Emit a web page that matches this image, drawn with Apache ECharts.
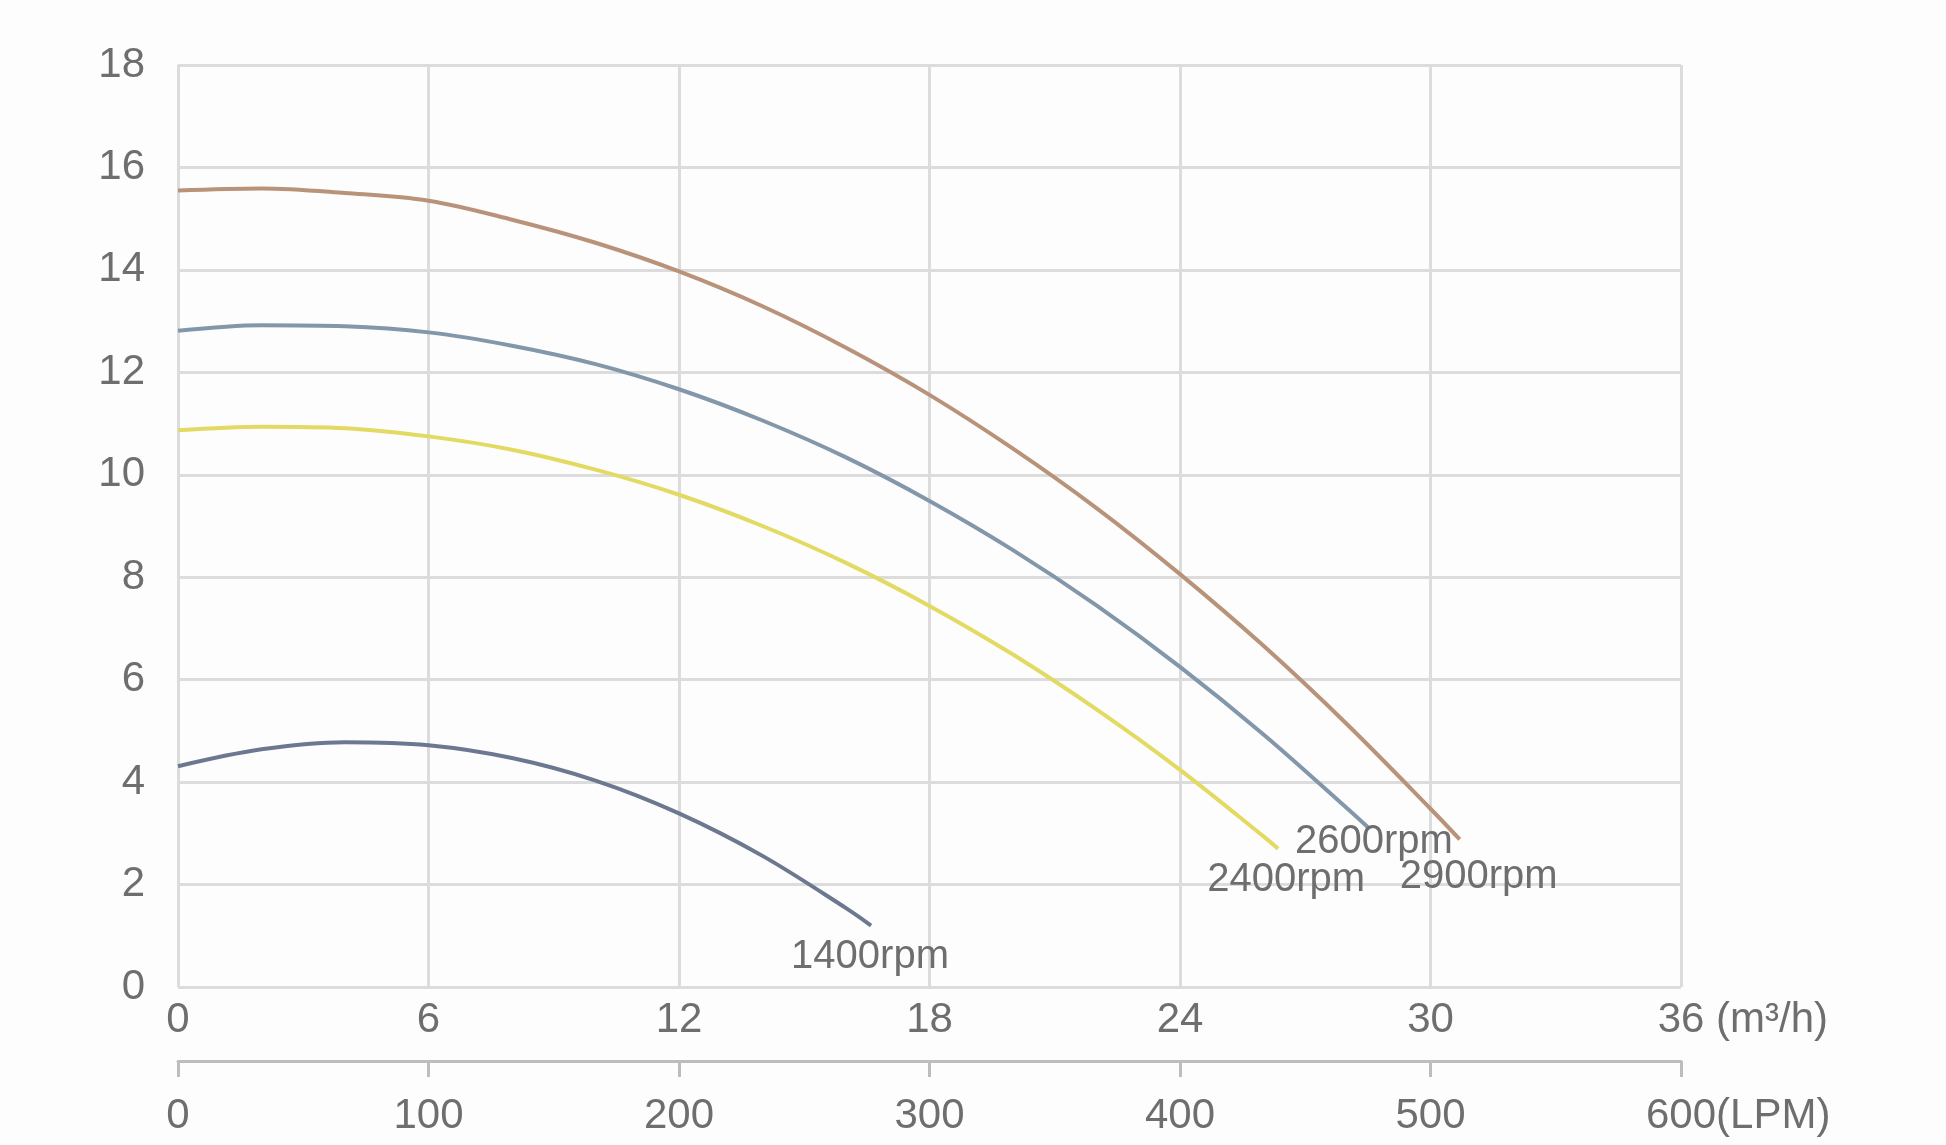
<!DOCTYPE html>
<html>
  <head>
    <title></title>
    <meta charset="UTF-8" />
    <script src="https://cdn.jsdelivr.net/npm/echarts@6/dist/echarts.min.js"></script>
    <style>
      html, body { margin: 0; padding: 0; background: #fdfdfd; }
    </style>
  </head>
  <body>
    <div id="main"></div>
    <script>
      const width = 1946;
      const height = 1145;
      const main = document.getElementById('main');
      main.style.width = `${width}px`;
      main.style.height = `${height}px`;

      // flow in m3/h, head in m
      const flow2900 = [0, 2, 4, 6, 8, 10, 12, 14, 16, 18, 20, 22, 24, 26, 28, 30, 30.7];
      const head2900 = [15.55, 15.59, 15.5, 15.35, 14.98, 14.53, 13.97, 13.29, 12.48, 11.56, 10.51, 9.35, 8.06, 6.66, 5.13, 3.48, 2.88];
      const flow2600 = [0, 2, 4, 6, 8, 10, 12, 14, 16, 18, 20, 22, 24, 26, 28, 28.5];
      const head2600 = [12.81, 12.92, 12.9, 12.78, 12.52, 12.16, 11.67, 11.06, 10.34, 9.49, 8.53, 7.45, 6.25, 4.93, 3.49, 3.12];
      const flow2400 = [0, 2, 4, 6, 8, 10, 12, 14, 16, 18, 20, 22, 24, 26, 26.35];
      const head2400 = [10.87, 10.94, 10.91, 10.75, 10.49, 10.1, 9.61, 9.0, 8.28, 7.44, 6.49, 5.42, 4.24, 2.94, 2.7];
      const flow1400 = [0, 2, 4, 6, 8, 10, 12, 14, 16, 16.6];
      const head1400 = [4.31, 4.64, 4.78, 4.72, 4.47, 4.03, 3.39, 2.56, 1.54, 1.2];

      const speedNames = ['2900rpm', '2600rpm', '2400rpm', '1400rpm'];
      const colors = ['#b8937a', '#8397aa', '#e2da62', '#6c7890'];
      const labelShift = [[19, 37], [6, 15], [8, 31], [-1, 31]];

      const flowTicks = [0, 6, 12, 18, 24, 30, 36];
      const lpmTicks = [0, 100, 200, 300, 400, 500, 600];

      const pairs = (xs, ys) => xs.map((x, i) => [x, ys[i]]);
      const curves = [
        pairs(flow2900, head2900),
        pairs(flow2600, head2600),
        pairs(flow2400, head2400),
        pairs(flow1400, head1400)
      ];

      const textColor = '#6e6e6e';
      const font = 'Liberation Sans, Arial, sans-serif';

      // last tick carries the unit; a hidden copy on the left keeps the number centred on its tick
      const withUnit = (lastTick, unit) => v =>
        v === lastTick ? `{h|${unit}}${v}${unit}` : `${v}`;

      const myChart = echarts.init(main);
      const option = {
        backgroundColor: '#fdfdfd',
        animation: false,
        grid: {
          left: 178,
          right: 1946 - 1681,
          top: 65,
          bottom: 1145 - 987
        },
        xAxis: [
          {
            type: 'value',
            min: flowTicks[0],
            max: flowTicks[flowTicks.length - 1],
            interval: 6,
            position: 'bottom',
            axisLine: { show: false },
            axisTick: { show: false },
            splitLine: { show: true, lineStyle: { color: '#dcdcdc', width: 3 } },
            axisLabel: {
              color: textColor, fontSize: 42, fontFamily: font, margin: 12,
              formatter: withUnit(36, ' (m³/h)'),
              rich: { h: { color: 'transparent', fontSize: 42, fontFamily: font } }
            }
          },
          {
            type: 'value',
            min: lpmTicks[0],
            max: lpmTicks[lpmTicks.length - 1],
            interval: 100,
            position: 'bottom',
            offset: 74,
            axisLine: { show: true, lineStyle: { color: '#bdbdbd', width: 3 } },
            axisTick: { show: true, length: 16, lineStyle: { color: '#bdbdbd', width: 3 } },
            splitLine: { show: false },
            axisLabel: {
              color: textColor, fontSize: 42, fontFamily: font, margin: 34,
              formatter: withUnit(600, '(LPM)'),
              rich: { h: { color: 'transparent', fontSize: 42, fontFamily: font } }
            }
          }
        ],
        yAxis: {
          type: 'value',
          min: 0,
          max: 18,
          interval: 2,
          axisLine: { show: false },
          axisTick: { show: false },
          splitLine: { show: true, lineStyle: { color: '#dcdcdc', width: 3 } },
          axisLabel: { color: textColor, fontSize: 42, fontFamily: font, margin: 33 }
        },
        series: curves.map((data, i) => ({
          name: speedNames[i],
          type: 'line',
          smooth: 0.35,
          showSymbol: false,
          symbol: 'none',
          data: data,
          lineStyle: { color: colors[i], width: 4 },
          endLabel: {
            show: true,
            formatter: speedNames[i],
            color: textColor,
            fontSize: 40,
            fontFamily: font,
            distance: 0,
            align: 'center',
            verticalAlign: 'middle',
            offset: labelShift[i]
          }
        }))
      };
      myChart.setOption(option);
    </script>
  </body>
</html>
